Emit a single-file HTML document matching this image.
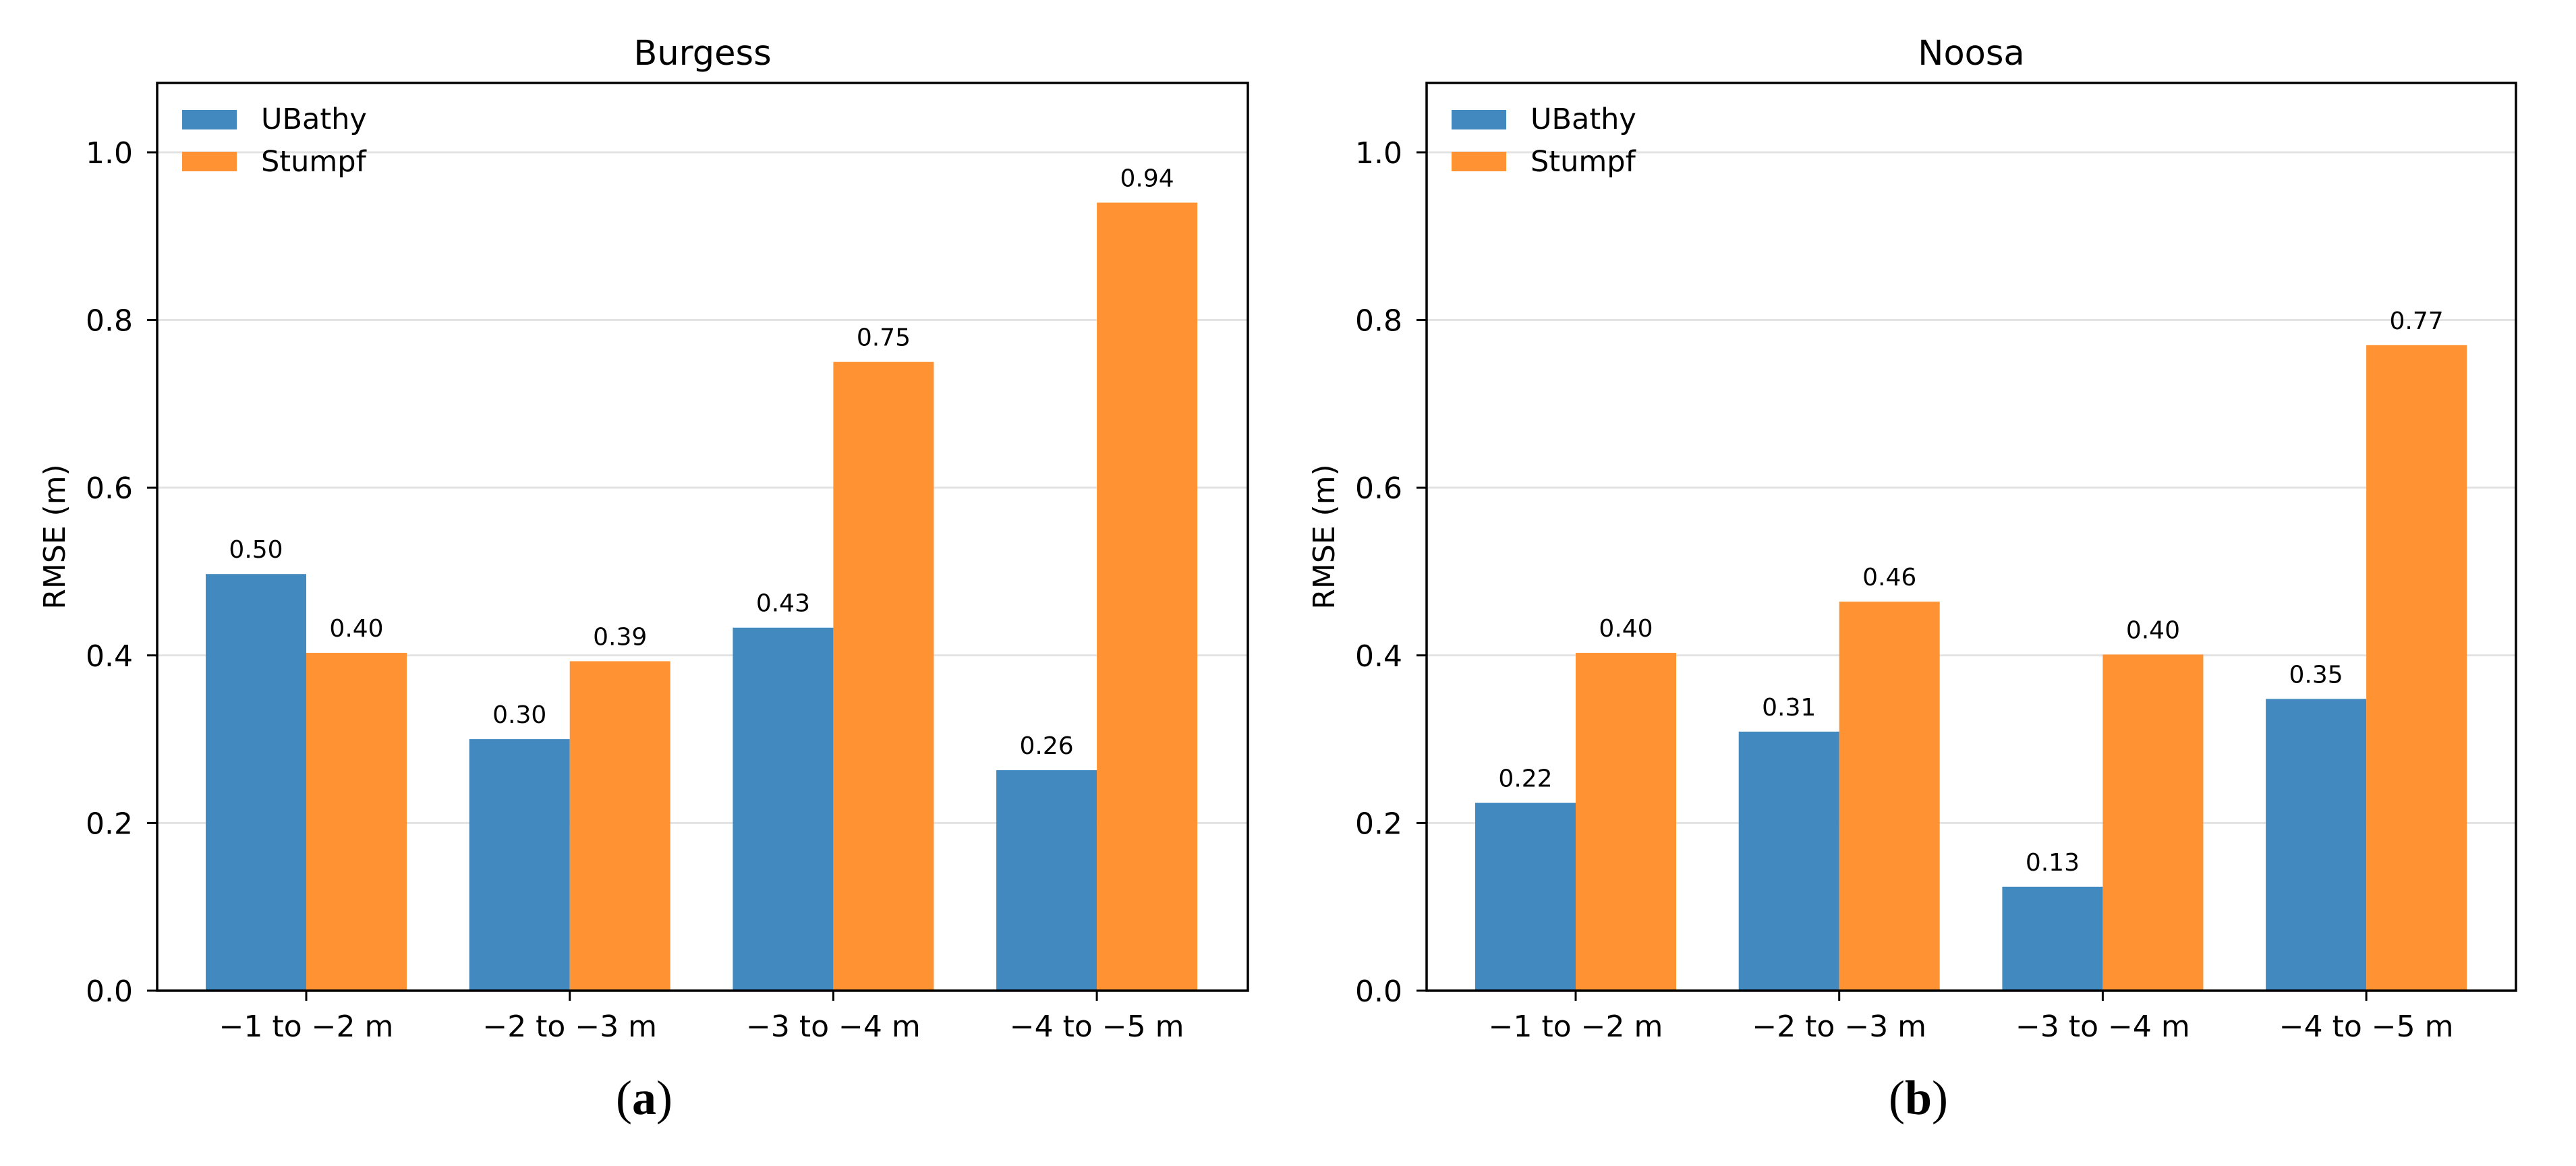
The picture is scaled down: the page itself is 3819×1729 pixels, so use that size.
<!DOCTYPE html>
<html><head><meta charset="utf-8"><style>
html,body{margin:0;padding:0;background:#fff;}
svg{display:block;}
text{font-family:"DejaVu Sans","Liberation Sans",sans-serif;fill:#000;}
</style></head><body>
<svg id="fig" width="3819" height="1729" viewBox="0 0 3819 1729" xmlns="http://www.w3.org/2000/svg"></svg>
<script>
const categories = ["\u22121 to \u22122 m","\u22122 to \u22123 m","\u22123 to \u22124 m","\u22124 to \u22125 m"];
const burgessUBathy = [0.497, 0.300, 0.433, 0.263];
const burgessStumpf = [0.403, 0.393, 0.750, 0.940];
const noosaUBathy = [0.224, 0.309, 0.124, 0.348];
const noosaStumpf = [0.403, 0.464, 0.401, 0.770];
const burgessLabelsU = ["0.50","0.30","0.43","0.26"];
const burgessLabelsS = ["0.40","0.39","0.75","0.94"];
const noosaLabelsU = ["0.22","0.31","0.13","0.35"];
const noosaLabelsS = ["0.40","0.46","0.40","0.77"];
const yTicks = [0.0, 0.2, 0.4, 0.6, 0.8, 1.0];
const yTickLabels = ["0.0","0.2","0.4","0.6","0.8","1.0"];
const panelTitles = ["Burgess","Noosa"];
const seriesNames = ["UBathy","Stumpf"];

const NS = "http://www.w3.org/2000/svg";
const svg = document.getElementById('fig');
function mk(tag, attrs, parent){const e=document.createElementNS(NS,tag);for(const k in attrs)e.setAttribute(k,attrs[k]);(parent||svg).appendChild(e);return e;}

const TOP=123, BOT=1469, YMAX=1.0828;
function yScale(v){return BOT-(v/YMAX)*(BOT-TOP);}

function panel(idx, left, right, firstTick, uVals, sVals, uLab, sLab, title){
  const step=390.7, bw=149;
  const xScale=i=>firstTick+i*step;
  const g=mk('g',{});
  
  
  yTicks.forEach((t,i)=>{
    if(t===0) return;
    const l=mk('line',{x1:left,x2:right,y1:yScale(t),y2:yScale(t),stroke:'#e3e3e3','stroke-width':3},g);
    
    
  });
  categories.forEach((c,i)=>{
    const cx=xScale(i);
    const b1=mk('rect',{x:cx-bw,y:yScale(uVals[i]),width:bw,height:BOT-yScale(uVals[i]),fill:'#4189bf'},g);
    
    
    const b2=mk('rect',{x:cx,y:yScale(sVals[i]),width:bw,height:BOT-yScale(sVals[i]),fill:'#ff9232'},g);
    
    
    const t1=mk('text',{x:cx-bw/2,y:yScale(uVals[i])-24,'text-anchor':'middle','font-size':36},g);
    t1.textContent=uLab[i];
    
    
    const t2=mk('text',{x:cx+bw/2,y:yScale(sVals[i])-24,'text-anchor':'middle','font-size':36},g);
    t2.textContent=sLab[i];
    
    
    const tk=mk('line',{x1:cx,x2:cx,y1:BOT,y2:BOT+15,stroke:'#000','stroke-width':3},g);
    
    
    const tl=mk('text',{x:cx,y:1537,'text-anchor':'middle','font-size':44},g);
    tl.textContent=c;
    
    
  });
  yTicks.forEach((t,i)=>{
    const tk=mk('line',{x1:left-15,x2:left,y1:yScale(t),y2:yScale(t),stroke:'#000','stroke-width':3},g);
    
    
    const tl=mk('text',{x:left-36,y:yScale(t)+16,'text-anchor':'end','font-size':44},g);
    tl.textContent=yTickLabels[i];
    
    
  });
  const fr=mk('rect',{x:left,y:TOP,width:right-left,height:BOT-TOP,fill:'none',stroke:'#000','stroke-width':3.5},g);
  
  
  const tt=mk('text',{x:(left+right)/2,y:96,'text-anchor':'middle','font-size':51},g);
  tt.textContent=title;
  
  
  const yl=mk('text',{x:0,y:0,'text-anchor':'middle','font-size':44,transform:`translate(${left-137},${(TOP+BOT)/2}) rotate(-90)`},g);
  yl.textContent='RMSE (m)';
  
  
  const colors=['#4189bf','#ff9232'];
  seriesNames.forEach((n,i)=>{
    const lg=mk('g',{},g);
    
    
    mk('rect',{x:left+37,y:163+i*62,width:81,height:29,fill:colors[i]},lg);
    const lt=mk('text',{x:left+154,y:191+i*63,'font-size':43},lg);
    lt.textContent=n;
  });
}
panel(0,233,1850,454,burgessUBathy,burgessStumpf,burgessLabelsU,burgessLabelsS,panelTitles[0]);
panel(1,2115,3730,2336,noosaUBathy,noosaStumpf,noosaLabelsU,noosaLabelsS,panelTitles[1]);

[["a",955],["b",2844]].forEach(([L,x])=>{
  const t=mk('text',{x:x,y:1652,'text-anchor':'middle','font-size':72,style:'font-family:"Liberation Serif",serif'});
  
  
  const a=mk('tspan',{},t);a.textContent='(';
  const b=mk('tspan',{'font-weight':'bold'},t);b.textContent=L;
  const c=mk('tspan',{},t);c.textContent=')';
});
</script>
</body></html>
